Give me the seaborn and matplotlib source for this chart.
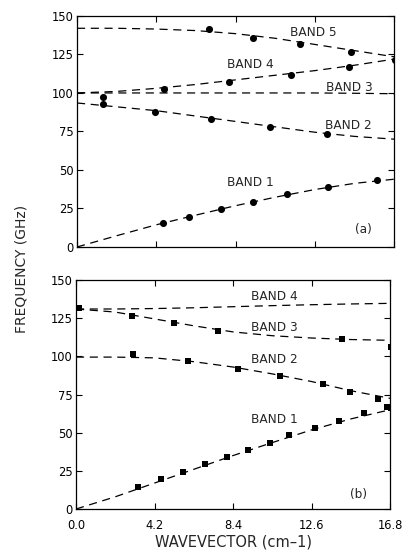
import matplotlib
matplotlib.use('Agg')
import matplotlib.pyplot as plt
import seaborn as sns
import pandas as pd

# theory curves (dashed), read at these wavevectors
k_curve = [0.0, 2.1, 4.2, 6.3, 8.4, 10.5, 12.6, 14.7, 16.8]

# panel (a)
a_band1 = [0.0, 7.3, 14.4, 20.7, 26.8, 32.3, 37.3, 41.3, 44.0]
a_band2 = [93.5, 91.0, 88.5, 85.0, 81.5, 78.0, 74.5, 71.8, 70.0]
a_band3 = [100.0, 100.0, 100.0, 100.0, 100.0, 100.0, 100.0, 99.8, 99.5]
a_band4 = [100.0, 101.0, 103.0, 105.5, 108.5, 111.5, 114.5, 118.0, 122.0]
a_band5 = [142.0, 142.0, 141.5, 140.5, 138.5, 135.5, 131.5, 127.5, 123.5]

# measured points (a), circles
a_k1 = [4.54, 5.94, 7.64, 9.31, 11.10, 13.31, 15.92]
a_f1 = [15.4, 19.7, 24.5, 29.4, 34.2, 39.0, 43.5]
a_k2 = [1.37, 4.11, 7.11, 10.20, 13.26]
a_f2 = [92.9, 87.9, 83.1, 77.9, 73.2]
a_k4 = [1.37, 4.59, 8.03, 11.33, 14.43]
a_f4 = [97.6, 102.4, 107.3, 111.9, 116.9]
a_k5 = [6.98, 9.33, 11.81, 14.50, 16.85]
a_f5 = [141.3, 135.9, 131.6, 126.4, 121.4]

# panel (b)
b_band1 = [0.0, 8.0, 17.0, 26.0, 35.0, 43.5, 51.8, 59.0, 65.0]
b_band2 = [99.5, 99.5, 99.0, 96.5, 93.0, 88.5, 83.5, 77.5, 72.5]
b_band3 = [131.0, 129.0, 124.5, 120.0, 116.0, 113.5, 112.0, 111.0, 110.5]
b_band4 = [131.0, 131.0, 131.3, 131.8, 132.5, 133.2, 133.8, 134.3, 134.7]

# measured points (b), squares
b_k1 = [3.33, 4.53, 5.73, 6.88, 8.06, 9.19, 10.38, 11.41, 12.79, 14.07, 15.41, 16.66, 16.84]
b_f1 = [14.6, 19.6, 24.2, 29.3, 33.9, 38.6, 43.4, 48.5, 53.0, 57.8, 62.7, 67.0, 65.9]
b_k2 = [3.07, 5.98, 8.67, 10.92, 13.20, 14.66, 16.14]
b_f2 = [101.5, 97.1, 91.9, 87.1, 82.1, 76.8, 72.0]
b_k3 = [0.18, 2.98, 5.23, 7.61, 14.21, 16.84]
b_f3 = [131.4, 126.4, 121.6, 116.6, 111.1, 106.3]

x_ticks = [0.0, 4.2, 8.4, 12.6, 16.8]
y_ticks = [0, 25, 50, 75, 100, 125, 150]


def draw_panel(ax, curves, points, marker, msize, labels, tag, show_xlabels):
    for vals in curves:
        sns.lineplot(x=k_curve, y=vals, ax=ax, color='black', linewidth=0.9,
                     linestyle='--', sort=False, zorder=2)
    for ks, fs in points:
        sns.scatterplot(x=ks, y=fs, ax=ax, color='black', marker=marker, s=msize,
                        edgecolor='black', linewidth=0, zorder=3)
    for txt, x, y in labels:
        ax.text(x, y, txt, ha='left', va='center', fontsize=8.7)
    ax.text(tag[1], tag[2], tag[0], ha='center', va='center', fontsize=8.7)

    ax.set_xlim(0, 16.8)
    ax.set_ylim(0, 150)
    ax.set_xticks(x_ticks)
    ax.set_yticks(y_ticks)
    ax.set_yticklabels([str(v) for v in y_ticks], fontsize=8.3)
    if show_xlabels:
        ax.set_xticklabels(['%.1f' % v for v in x_ticks], fontsize=8.3)
    else:
        ax.set_xticklabels([])
    ax.tick_params(direction='in', length=4, width=0.8, top=True, right=True,
                   pad=2.5, colors='black')
    ax.tick_params(axis='x', pad=7)
    for sp in ax.spines.values():
        sp.set_visible(True)
        sp.set_linewidth(0.9)
        sp.set_color('black')
    ax.set_xlabel('')
    ax.set_ylabel('')


sns.set_style('ticks')
plt.rcParams['font.family'] = ['DejaVu Sans']
plt.rcParams['lines.dashed_pattern'] = [6.5, 4.5]

fig = plt.figure(figsize=(4.06, 5.54), dpi=100)
ax_a = fig.add_axes([0.1897, 0.5542, 0.781, 0.417])
ax_b = fig.add_axes([0.1872, 0.0812, 0.7734, 0.4134])

draw_panel(ax_a,
           [a_band1, a_band2, a_band3, a_band4, a_band5],
           [(a_k1, a_f1), (a_k2, a_f2), (a_k4, a_f4), (a_k5, a_f5)],
           'o', 26,
           [('BAND 5', 11.3, 139.1), ('BAND 4', 7.95, 118.2), ('BAND 3', 13.18, 103.8),
            ('BAND 2', 13.16, 79.0), ('BAND 1', 7.92, 41.9)],
           ('(a)', 15.19, 11.4), False)

draw_panel(ax_b,
           [b_band1, b_band2, b_band3, b_band4],
           [(b_k1, b_f1), (b_k2, b_f2), (b_k3, b_f3)],
           's', 20,
           [('BAND 4', 9.35, 139.0), ('BAND 3', 9.35, 118.7),
            ('BAND 2', 9.35, 97.6), ('BAND 1', 9.35, 58.5)],
           ('(b)', 15.1, 9.8), True)

ax_b.set_xlabel('WAVEVECTOR (cm–1)', fontsize=10.5, labelpad=2)
fig.text(0.052, 0.514, 'FREQUENCY (GHz)', rotation=90, ha='center', va='center',
         fontsize=10)

fig.savefig('out.png', dpi=100)
